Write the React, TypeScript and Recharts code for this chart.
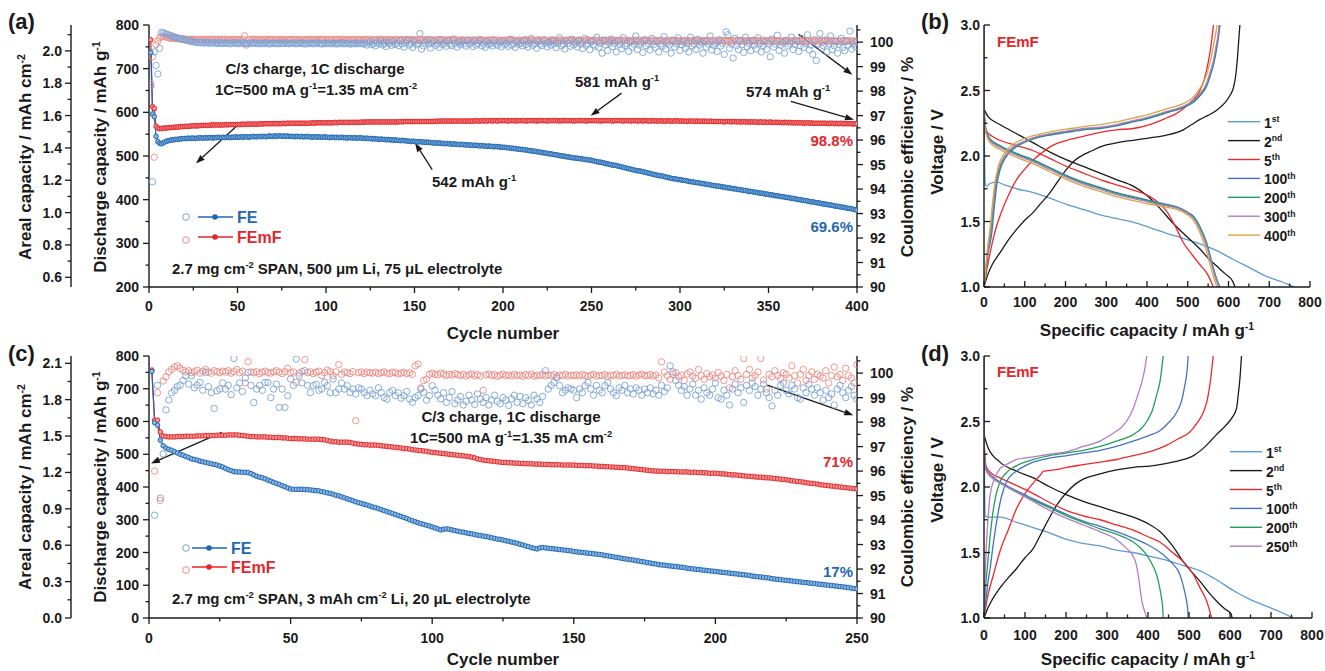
import React from 'react';
import { ComposedChart, LineChart, Line, XAxis, YAxis, ReferenceLine } from 'recharts';

const FONT = '"Liberation Sans", Arial, sans-serif';
const INK = '#1a1a1a';
const FE_DARK = '#1f67b1';
const FE_FILL = '#8fb8e3';
const FE_CE = '#7aa3d6';
const FM_DARK = '#e3262b';
const FM_FILL = '#f59b98';
const FM_CE = '#ef8a82';

// ---------- panel (a): 400 cycles, 500 um Li ----------
const feCapA = [
  737,596,590,545,533,529,528,530,532,534,535,536,537,537,538,538,539,539,540,540,
  540,541,540,541,541,540,541,541,542,541,541,542,541,542,542,541,542,542,543,542,
  542,543,542,543,543,542,543,543,544,543,543,544,543,544,544,543,544,544,545,544,
  544,545,544,545,545,544,545,546,545,545,546,545,546,546,545,546,545,546,545,545,
  545,544,545,545,544,545,544,544,545,544,544,543,544,544,543,544,543,543,544,543,
  543,542,543,543,542,543,542,542,543,542,542,541,542,542,541,542,541,541,542,541,
  541,540,541,540,540,539,540,539,539,538,539,538,538,537,538,537,537,536,537,536,
  536,535,536,535,535,534,534,533,534,533,533,532,533,532,532,531,532,531,531,530,
  530,530,529,530,529,529,528,529,528,528,527,528,527,527,526,527,526,526,525,526,
  525,525,524,525,524,524,523,524,523,523,522,523,522,522,521,522,521,521,520,520,
  520,519,519,518,518,517,517,516,516,515,515,514,514,513,512,512,511,511,510,509,
  509,508,507,507,506,505,505,504,503,503,502,501,500,500,499,498,498,497,496,496,
  495,495,494,494,493,492,492,491,491,490,489,488,487,486,486,485,484,483,482,481,
  480,479,479,478,477,476,475,474,473,472,471,470,469,468,467,466,466,465,464,463,
  462,461,460,459,458,457,456,455,455,454,453,452,451,450,449,448,448,447,446,446,
  445,444,444,443,442,441,441,440,439,439,438,437,437,436,435,435,434,433,432,432,
  431,431,430,429,429,428,427,427,426,425,425,424,423,423,422,421,421,420,419,419,
  418,417,417,416,415,415,414,413,413,412,411,411,410,409,409,408,407,407,406,405,
  405,404,403,403,402,401,400,400,399,398,398,397,396,395,395,394,393,393,392,391,
  390,390,389,388,388,387,386,385,385,384,383,383,382,381,380,380,379,378,377,376,
];
const femfCapA = [
  766,613,609,568,564,563,563,564,564,564,565,565,565,566,566,566,567,567,567,568,
  568,568,568,569,569,569,569,569,570,570,570,570,570,570,571,571,571,571,571,571,
  571,571,572,571,572,572,572,572,572,572,572,572,573,572,573,573,573,573,573,573,
  573,573,574,573,574,574,574,574,574,574,574,574,574,574,574,575,574,575,575,575,
  575,575,575,575,575,575,575,575,575,575,575,576,575,576,576,576,576,576,576,576,
  576,576,576,576,577,576,577,577,577,577,577,577,577,577,577,577,577,577,577,578,
  577,578,578,578,578,578,578,578,578,578,578,578,578,578,578,578,578,578,578,578,
  578,579,578,579,579,579,579,579,579,579,579,579,579,579,579,579,579,579,579,579,
  579,580,579,580,580,580,580,580,580,580,580,580,580,580,580,580,580,580,580,580,
  580,580,580,580,581,580,580,581,580,581,580,581,581,580,581,581,580,581,581,581,
  581,581,580,581,581,581,580,581,581,581,581,581,580,581,581,581,581,581,580,581,
  581,581,581,581,580,581,581,581,581,581,581,580,581,581,581,581,581,581,581,580,
  581,581,581,581,581,581,580,581,581,581,581,581,581,581,580,581,581,581,581,581,
  581,580,581,581,581,581,581,580,581,581,581,580,581,581,581,580,581,581,580,581,
  581,580,580,581,580,581,580,580,581,580,580,580,581,580,580,580,580,581,580,580,
  580,580,580,579,580,580,580,579,580,580,579,580,579,580,579,579,580,579,579,579,
  579,579,579,579,578,579,579,579,578,579,579,578,579,578,578,579,578,578,578,578,
  578,578,578,577,578,578,577,578,577,577,578,577,577,577,577,577,577,576,577,577,
  576,577,576,576,576,576,576,576,576,575,576,576,575,576,575,575,575,575,575,575,
  575,575,575,574,575,575,574,575,574,574,575,574,574,574,574,574,574,573,574,574,
];
const feCeA = [
  98.2,94.3,99.6,99.05,98.7,99.75,100.4,100.38,100.35,100.32,100.3,100.27,100.25,100.22,100.2,100.18,100.15,100.14,100.12,100.1,
  100.08,100.06,100.05,100.03,100.02,100.0,99.98,100.0,99.97,99.99,99.96,99.98,100.0,99.95,99.97,99.99,99.96,99.98,99.95,99.97,
  99.96,99.94,99.98,99.95,99.97,99.93,99.96,99.99,99.95,99.97,99.94,99.96,99.98,99.93,99.96,99.95,99.97,99.94,99.98,99.95,
  99.96,99.93,99.97,99.95,99.94,99.98,99.96,99.92,99.95,99.97,99.94,99.96,99.93,99.97,99.95,99.94,99.98,99.95,99.93,99.96,
  99.95,99.97,99.93,99.96,99.94,99.98,99.95,99.92,99.96,99.94,99.97,99.95,99.93,99.96,99.98,99.94,99.95,99.92,99.97,99.95,
  99.94,99.96,99.93,99.97,99.95,99.92,99.96,99.94,99.98,99.93,99.95,99.97,99.94,99.92,99.96,99.95,99.93,99.97,99.94,99.96,
  99.92,99.97,99.88,99.95,100.02,99.9,99.96,99.85,99.98,99.93,100.05,99.89,99.95,99.82,99.99,99.94,99.87,100.03,99.91,99.96,
  99.86,100.06,99.93,99.8,99.97,100.1,99.88,99.94,99.78,100.02,99.9,99.96,100.35,99.72,99.85,99.98,100.08,99.92,99.76,99.95,
  100.04,99.87,99.93,99.79,100.1,99.9,99.97,99.83,100.05,99.92,99.86,100.12,99.95,99.8,99.98,99.89,100.03,99.93,99.84,100.07,
  99.91,99.97,99.82,100.04,99.88,99.95,100.1,99.85,99.93,99.79,100.02,99.9,99.96,99.84,100.08,99.92,99.87,99.98,99.81,100.05,
  99.9,99.96,99.83,100.12,99.88,99.94,99.78,100.03,99.91,99.97,99.85,100.08,99.9,99.8,99.96,100.15,99.87,99.93,99.75,100.02,
  99.92,99.86,100.1,99.95,99.81,99.98,99.88,100.05,99.93,99.77,99.96,100.18,99.85,99.91,99.72,100.04,99.95,99.83,100.12,99.89,
  99.97,99.8,100.06,99.92,99.74,100.15,99.87,99.95,99.69,100.03,99.9,99.83,100.2,99.78,99.96,99.55,100.08,99.88,99.66,99.97,
  100.12,99.82,99.94,99.6,100.05,99.9,99.73,100.18,99.86,99.95,99.62,100.02,99.8,99.92,100.25,99.7,99.88,99.98,99.58,100.1,
  99.85,99.95,99.68,100.15,99.9,99.78,100.04,99.6,99.93,99.84,100.22,99.72,99.97,99.88,99.55,100.08,99.8,99.93,100.18,99.66,
  99.9,100.02,99.75,99.95,99.6,100.2,99.85,99.93,99.7,100.12,99.88,99.98,99.55,100.05,99.79,99.92,100.25,99.68,99.87,99.97,
  99.62,100.1,99.84,99.95,99.5,100.42,100.3,99.75,99.92,99.35,100.15,99.86,99.7,100.05,99.9,99.58,100.2,99.82,99.95,99.65,
  100.08,99.88,99.72,100.18,99.93,99.6,99.85,100.02,99.7,99.95,99.4,100.12,99.8,99.92,100.28,99.66,99.87,99.98,99.55,100.06,
  99.84,99.93,100.2,99.7,99.9,100.05,99.62,99.85,100.15,99.78,99.95,100.3,99.68,99.88,99.5,100.1,99.25,99.92,100.35,99.75,
  99.86,100.08,99.6,99.93,100.25,99.7,99.85,100.02,99.55,99.9,100.15,99.78,99.65,100.05,99.88,100.45,99.72,99.93,99.82,100.0,
];
const femfCeA = [
  98.3,99.4,95.3,99.9,100.05,100.18,100.22,100.25,100.22,100.2,100.18,100.16,100.17,100.15,100.14,100.15,100.13,100.14,100.12,100.13,
  100.11,100.12,100.1,100.12,100.11,100.09,100.12,100.1,100.11,100.09,100.12,100.1,100.08,100.11,100.1,100.12,100.09,100.11,100.1,100.08,
  100.11,100.09,100.12,100.1,100.08,100.11,100.1,100.12,100.09,100.11,100.1,100.08,100.12,100.26,99.88,100.1,100.11,100.09,100.12,100.1,
  100.09,100.11,100.1,100.08,100.12,100.1,100.09,100.11,100.1,100.12,100.08,100.1,100.11,100.09,100.12,100.1,100.08,100.11,100.1,100.09,
  100.1,100.12,100.08,100.11,100.09,100.1,100.12,100.08,100.1,100.11,100.09,100.12,100.1,100.08,100.11,100.1,100.09,100.12,100.1,100.08,
  100.11,100.09,100.1,100.12,100.08,100.1,100.11,100.09,100.12,100.1,100.08,100.11,100.1,100.09,100.12,100.1,100.08,100.11,100.09,100.1,
  100.08,100.11,100.09,100.12,100.07,100.1,100.09,100.11,100.08,100.1,100.12,100.07,100.1,100.09,100.11,100.08,100.1,100.06,100.11,100.09,
  100.1,100.07,100.11,100.08,100.1,100.06,100.09,100.11,100.08,100.1,100.07,100.09,100.11,100.06,100.1,100.08,100.09,100.11,100.07,100.1,
  100.06,100.09,100.08,100.11,100.07,100.1,100.05,100.09,100.08,100.1,100.06,100.09,100.11,100.07,100.08,100.05,100.1,100.08,100.06,100.09,
  100.08,100.05,100.1,100.07,100.09,100.06,100.08,100.1,100.05,100.08,100.07,100.09,100.06,100.1,100.08,100.05,100.09,100.07,100.08,100.06,
  100.09,100.05,100.08,100.07,100.1,100.06,100.08,100.04,100.09,100.07,100.05,100.08,100.1,100.06,100.07,100.09,100.05,100.08,100.06,100.1,
  100.07,100.05,100.09,100.06,100.08,100.04,100.07,100.1,100.05,100.08,100.06,100.09,100.04,100.07,100.08,100.05,100.1,100.06,100.07,100.04,
  100.08,100.06,100.09,100.05,100.07,100.04,100.08,100.1,100.05,100.07,100.06,100.09,100.04,100.08,100.06,100.07,100.03,100.09,100.05,100.08,
  100.06,100.04,100.08,100.07,100.05,100.09,100.03,100.07,100.06,100.08,100.04,100.07,100.05,100.09,100.06,100.03,100.08,100.05,100.07,100.04,
  100.08,100.05,100.06,100.03,100.09,100.06,100.04,100.07,100.05,100.08,100.03,100.06,100.07,100.04,100.08,100.05,100.06,100.03,100.07,100.05,
  100.04,100.08,100.05,100.06,100.03,100.07,100.05,100.04,100.08,100.06,100.03,100.07,100.05,100.06,100.04,100.08,100.05,100.03,100.07,100.06,
  100.05,100.03,100.07,100.06,100.04,100.08,100.05,100.03,100.06,100.07,100.04,100.05,100.08,100.03,100.06,100.05,100.04,100.07,100.05,100.03,
  100.06,100.04,100.07,100.05,100.03,100.06,100.08,100.04,100.05,100.07,100.03,100.06,100.05,100.04,100.07,100.05,100.03,100.06,100.04,100.07,
  100.05,100.03,100.06,100.04,100.07,100.05,100.02,100.06,100.04,100.05,100.07,100.03,100.05,100.06,100.04,100.02,100.06,100.05,100.03,100.07,
  100.04,100.06,100.02,100.05,100.07,100.03,100.05,100.04,100.06,100.02,100.05,100.04,100.07,100.03,100.05,100.06,100.02,100.05,100.04,100.03,
];

// ---------- panel (c): 250 cycles, 3 mAh cm-2 Li ----------
const feCapC = [
  753,596,589,543,526,519,515,512,508,504,500,497,493,490,486,484,482,479,477,475,473,471,469,467,464,
  461,457,453,450,447,446,446,445,445,444,441,437,433,430,428,425,421,418,414,411,408,404,401,397,394,
  393,393,393,393,392,392,391,390,389,388,386,384,382,380,378,375,373,370,367,364,361,358,355,352,350,
  347,345,342,339,337,334,331,328,325,322,319,316,313,310,307,304,300,297,294,291,288,286,283,281,278,
  275,272,269,271,272,271,269,267,265,263,262,260,258,257,255,253,252,250,249,247,245,243,241,240,238,
  236,234,232,230,228,225,223,220,218,215,213,211,214,215,214,213,212,211,210,209,208,207,206,205,203,
  202,201,200,199,198,197,196,195,194,193,191,190,188,187,185,184,182,181,179,178,177,175,174,172,171,
  169,168,166,165,163,162,161,160,159,158,157,156,155,154,152,151,150,149,148,147,146,145,144,143,142,
  141,140,139,138,137,136,135,134,133,132,131,130,128,127,126,125,124,123,122,120,119,118,117,116,115,
  114,113,112,111,110,109,108,107,106,105,104,103,102,101,100,99,98,97,96,95,94,93,91,90,89,
];
const femfCapC = [
  757,604,604,568,556,554,553,553,553,554,554,554,555,555,555,555,556,556,556,557,557,557,557,558,558,
  558,558,559,559,559,559,558,557,556,555,554,554,553,553,553,553,552,552,551,551,551,550,550,549,548,
  548,548,547,547,547,546,546,546,546,546,545,544,542,540,538,538,537,537,537,537,536,534,532,531,530,
  529,529,528,528,528,527,526,525,524,523,522,521,520,519,518,517,516,514,513,512,511,510,509,507,506,
  505,504,503,502,501,500,499,498,497,496,495,494,493,491,489,486,484,482,481,480,479,478,477,476,475,
  475,474,474,473,473,472,472,471,471,471,470,470,470,469,469,469,468,468,468,468,467,467,467,467,467,
  466,466,466,465,465,465,464,464,463,463,462,462,461,461,460,460,459,459,458,457,456,455,454,453,452,
  451,450,449,449,448,448,448,447,447,447,447,446,446,446,446,445,445,445,444,444,443,443,442,442,442,
  441,440,440,439,438,437,437,436,435,434,433,433,432,431,430,430,429,428,428,427,426,425,424,423,422,
  421,419,418,417,416,415,413,412,411,410,409,407,406,405,404,403,402,401,400,399,398,397,396,395,394,
];
const feCeC = [
  null,94.2,99.5,94.9,96.7,98.5,98.9,99.2,99.3,99.45,99.51,99.7,99.89,99.55,99.9,99.4,99.51,99.62,99.3,100.03,99.45,99.2,98.56,99.28,99.35,
  99.6,99.35,99.5,99.12,100.6,99.4,99.6,99.25,99.8,100.03,99.5,98.8,99.35,99.49,99.3,99.62,99.62,99.0,99.35,99.55,98.6,99.35,98.6,99.08,99.76,
  99.5,100.57,99.89,99.6,100.1,99.5,99.2,99.49,99.55,99.3,99.35,99.62,99.49,99.2,99.76,99.2,99.35,99.6,99.35,99.49,99.21,99.35,99.15,99.4,99.35,
  99.2,99.08,99.3,99.15,99.08,99.4,99.21,99.0,98.94,99.21,99.3,99.08,99.2,98.98,99.08,99.25,98.94,98.81,99.0,99.08,99.35,99.21,98.9,99.08,99.49,
  99.3,99.1,98.95,99.2,98.8,99.0,99.25,98.75,98.9,99.05,98.7,98.85,99.1,98.9,98.72,99.15,98.95,98.8,99.0,98.7,98.9,99.1,98.85,98.75,99.0,
  98.9,98.68,98.95,99.1,98.8,99.05,98.75,99.0,98.88,98.7,99.1,98.95,98.8,99.05,100.1,99.35,99.5,99.62,99.8,99.49,99.2,99.3,99.4,99.35,99.3,
  99.0,99.35,99.2,99.49,99.62,99.35,99.1,99.5,99.3,99.2,99.49,99.62,99.35,99.2,99.08,99.4,99.3,99.5,99.2,99.35,99.15,99.4,99.3,99.1,99.35,
  99.2,99.4,99.15,99.3,99.1,99.5,99.25,99.4,100.3,100.05,99.7,99.5,99.3,99.45,99.1,99.35,99.55,99.1,99.3,98.94,99.4,99.2,99.1,99.35,99.6,
  99.0,98.94,99.3,99.1,98.7,99.35,99.55,99.2,99.4,98.8,99.5,99.3,99.6,99.45,99.1,99.35,99.55,99.2,99.0,98.66,99.3,99.1,99.5,99.6,99.3,
  99.15,99.5,99.35,99.0,98.94,99.4,99.2,99.55,99.35,99.1,99.4,99.2,98.9,99.3,99.0,99.15,98.7,99.35,99.5,99.2,99.0,99.3,99.45,99.1,98.94,
];
const femfCeC = [
  null,96.0,99.2,94.8,99.68,99.85,100.05,100.15,100.25,100.3,100.2,100.12,100.05,100.1,100.02,100.06,100.12,100.0,100.08,100.15,100.05,100.0,100.1,100.06,100.02,
  100.08,100.04,100.1,100.0,100.06,100.15,100.02,100.08,99.6,100.47,100.05,100.02,100.06,99.98,100.04,100.08,100.02,100.0,100.05,100.1,100.04,99.98,100.06,100.2,100.02,
  100.05,99.62,100.0,100.06,100.55,100.02,100.05,99.98,100.04,100.08,99.9,100.02,100.12,100.06,99.9,100.05,100.35,99.95,100.05,100.02,99.98,100.06,98.06,100.02,100.05,
  99.98,100.04,100.02,100.0,100.04,99.98,100.02,100.05,100.0,99.98,100.04,100.02,99.97,100.0,100.03,99.98,100.02,99.95,100.3,100.37,99.4,99.7,99.75,99.95,100.0,
  99.95,99.93,100.0,99.96,99.9,99.95,99.92,99.98,99.94,99.9,99.95,99.88,99.93,99.97,99.9,99.94,99.88,99.3,99.93,99.96,99.9,99.94,99.87,99.92,99.96,
  99.9,99.93,99.88,99.95,99.9,99.92,99.87,99.94,99.9,99.96,99.88,99.92,99.9,99.95,99.89,99.93,99.9,99.94,99.87,99.92,99.9,99.95,99.88,99.92,99.9,
  99.93,99.89,99.94,99.9,99.87,99.92,99.95,99.88,99.91,99.9,99.94,99.87,99.92,99.9,99.95,99.88,99.91,99.93,99.89,99.9,99.94,99.88,99.92,99.96,99.9,
  99.9,99.94,99.88,99.92,99.8,100.46,100.05,99.9,99.75,99.95,100.02,99.85,99.92,99.7,99.96,100.05,99.88,99.8,100.15,99.9,99.75,99.98,99.85,99.92,99.8,
  100.02,99.88,99.7,99.95,99.4,99.85,100.1,99.9,99.75,100.6,99.95,100.15,99.8,99.9,100.05,100.6,99.72,99.35,99.95,99.85,100.1,99.9,99.78,100.02,99.95,
  99.8,100.3,99.9,99.6,99.95,100.15,99.7,99.9,100.05,99.75,99.95,99.88,99.8,100.1,99.6,99.9,100.25,99.85,99.95,99.7,100.2,99.9,99.8,99.6,100.35,
];

// ---------- panel (b): voltage profiles [capacity, voltage] ----------
const b1Dis = [[0,3.0],[1,2.1],[3,1.79],[6,1.77],[15,1.79],[31,1.8],[50,1.78],[80,1.75],[121,1.72],[160,1.68],[203,1.63],[245,1.59],[285,1.55],[330,1.52],[366,1.495],[410,1.45],[448,1.41],[490,1.37],[530,1.33],[570,1.28],[612,1.21],[650,1.15],[694,1.08],[730,1.04],[762,1.0]];
const b2Dis = [[0,2.36],[10,2.3],[39,2.24],[80,2.17],[121,2.1],[162,2.03],[203,1.97],[244,1.92],[285,1.87],[325,1.82],[366,1.77],[399,1.7],[432,1.6],[460,1.5],[489,1.41],[510,1.35],[530,1.29],[550,1.22],[571,1.16],[592,1.1],[610,1.045],[616,1.0]];
const b2Chg = [[0,1.0],[10,1.1],[20,1.17],[39,1.26],[60,1.36],[80,1.44],[100,1.51],[121,1.57],[140,1.64],[162,1.72],[182,1.81],[203,1.9],[224,1.97],[244,2.01],[265,2.04],[285,2.07],[325,2.1],[366,2.12],[410,2.14],[448,2.16],[489,2.2],[510,2.24],[530,2.28],[550,2.31],[571,2.35],[592,2.41],[605,2.47],[612,2.52],[618,2.62],[622,2.75],[625,2.88],[628,3.0]];
const b5Dis = [[0,2.95],[1,2.3],[6,2.19],[20,2.15],[39,2.12],[80,2.08],[121,2.04],[162,1.98],[203,1.92],[244,1.87],[285,1.82],[325,1.78],[366,1.74],[407,1.69],[430,1.64],[448,1.58],[470,1.46],[489,1.34],[510,1.25],[530,1.17],[548,1.1],[563,1.0]];
const b5Chg = [[0,1.0],[5,1.1],[15,1.26],[25,1.4],[39,1.54],[60,1.7],[80,1.82],[100,1.9],[121,1.97],[140,2.02],[162,2.07],[182,2.1],[203,2.12],[244,2.15],[285,2.18],[325,2.2],[366,2.21],[407,2.24],[448,2.29],[470,2.32],[489,2.36],[510,2.42],[530,2.5],[540,2.58],[548,2.68],[555,2.8],[559,2.89],[563,3.0]];
const b100Dis = [[0,2.95],[1,2.3],[5,2.2],[15,2.13],[39,2.08],[80,2.02],[121,1.97],[162,1.91],[203,1.85],[244,1.8],[285,1.76],[325,1.72],[366,1.69],[407,1.66],[448,1.63],[475,1.61],[500,1.57],[514,1.54],[530,1.46],[546,1.34],[559,1.19],[571,1.06],[579,1.0]];
const b100Chg = [[0,1.0],[5,1.12],[10,1.25],[19,1.41],[25,1.6],[31,1.77],[40,1.9],[56,2.0],[75,2.06],[97,2.1],[121,2.13],[162,2.16],[203,2.18],[244,2.2],[285,2.21],[325,2.23],[366,2.26],[407,2.29],[448,2.33],[489,2.37],[514,2.41],[530,2.46],[546,2.53],[556,2.62],[565,2.72],[571,2.82],[576,2.92],[579,3.0]];
const b200Dis = [[0,2.95],[1,2.29],[5,2.19],[15,2.125],[39,2.075],[80,2.015],[121,1.965],[162,1.905],[203,1.845],[244,1.795],[285,1.755],[325,1.715],[366,1.685],[407,1.655],[448,1.625],[475,1.605],[500,1.565],[514,1.535],[530,1.455],[546,1.335],[559,1.185],[571,1.055],[578,1.0]];
const b200Chg = [[0,1.0],[5,1.13],[9,1.26],[17,1.42],[23,1.61],[29,1.78],[38,1.9],[54,2.005],[73,2.065],[97,2.105],[121,2.135],[162,2.165],[203,2.185],[244,2.205],[285,2.215],[325,2.235],[366,2.265],[407,2.295],[448,2.335],[489,2.375],[513,2.415],[529,2.465],[545,2.535],[555,2.625],[564,2.725],[570,2.825],[575,2.92],[578,3.0]];
const b300Dis = [[0,2.95],[1,2.28],[5,2.18],[15,2.115],[39,2.065],[80,2.005],[121,1.955],[162,1.895],[203,1.835],[244,1.785],[285,1.745],[325,1.705],[366,1.675],[407,1.645],[448,1.62],[475,1.6],[500,1.56],[514,1.525],[529,1.445],[545,1.325],[558,1.18],[570,1.05],[577,1.0]];
const b300Chg = [[0,1.0],[4,1.13],[9,1.27],[16,1.43],[22,1.62],[28,1.79],[37,1.91],[53,2.01],[72,2.07],[97,2.11],[121,2.14],[162,2.17],[203,2.19],[244,2.21],[285,2.22],[325,2.24],[366,2.27],[407,2.3],[448,2.34],[489,2.38],[512,2.42],[528,2.47],[544,2.54],[554,2.63],[563,2.73],[569,2.83],[574,2.92],[577,3.0]];
const b400Dis = [[0,2.95],[1,2.27],[5,2.17],[15,2.1],[39,2.05],[80,1.99],[121,1.94],[162,1.88],[203,1.82],[244,1.77],[285,1.73],[325,1.69],[366,1.66],[407,1.63],[448,1.61],[475,1.59],[500,1.55],[514,1.51],[528,1.43],[542,1.31],[555,1.17],[566,1.05],[572,1.0]];
const b400Chg = [[0,1.0],[4,1.14],[8,1.28],[15,1.45],[21,1.64],[27,1.8],[36,1.93],[52,2.03],[72,2.09],[97,2.13],[121,2.155],[162,2.185],[203,2.205],[244,2.225],[285,2.24],[325,2.26],[366,2.29],[407,2.32],[448,2.36],[489,2.4],[510,2.44],[526,2.5],[540,2.57],[550,2.66],[558,2.76],[564,2.86],[569,2.94],[572,3.0]];

// ---------- panel (d) ----------
const d1Dis = [[0,3.0],[1,2.2],[3,1.78],[10,1.77],[39,1.77],[80,1.73],[120,1.69],[160,1.65],[202,1.6],[240,1.57],[283,1.55],[320,1.52],[364,1.5],[405,1.47],[446,1.44],[487,1.4],[527,1.36],[568,1.29],[608,1.21],[650,1.14],[689,1.09],[720,1.05],[754,1.0]];
const d2Dis = [[0,2.4],[10,2.3],[39,2.19],[80,2.12],[120,2.07],[161,2.0],[202,1.94],[242,1.89],[283,1.85],[323,1.81],[364,1.77],[400,1.72],[429,1.66],[460,1.55],[486,1.43],[507,1.35],[527,1.28],[547,1.2],[567,1.13],[587,1.07],[603,1.03],[605,1.0]];
const d2Chg = [[0,1.0],[10,1.08],[20,1.14],[39,1.23],[60,1.31],[80,1.38],[100,1.46],[120,1.53],[137,1.63],[157,1.75],[177,1.86],[202,1.96],[222,2.02],[242,2.06],[283,2.1],[323,2.13],[364,2.15],[405,2.16],[446,2.18],[487,2.21],[511,2.24],[540,2.31],[567,2.4],[590,2.47],[605,2.53],[616,2.6],[620,2.7],[624,2.82],[628,3.0]];
const d5Dis = [[0,3.0],[1,2.3],[6,2.15],[20,2.1],[39,2.07],[80,2.01],[120,1.95],[161,1.88],[202,1.82],[242,1.78],[283,1.75],[323,1.71],[364,1.67],[400,1.62],[429,1.58],[460,1.5],[486,1.43],[511,1.33],[527,1.23],[543,1.13],[550,1.06],[555,1.0]];
const d5Chg = [[0,1.0],[8,1.15],[23,1.33],[39,1.51],[60,1.68],[80,1.84],[100,1.95],[120,2.03],[137,2.09],[145,2.12],[170,2.13],[202,2.15],[242,2.17],[283,2.19],[323,2.21],[364,2.24],[405,2.27],[446,2.32],[475,2.37],[502,2.42],[520,2.49],[535,2.57],[545,2.67],[551,2.78],[555,2.88],[559,3.0]];
const d100Dis = [[0,3.0],[1,2.25],[5,2.14],[20,2.08],[39,2.04],[80,1.97],[120,1.91],[161,1.85],[202,1.79],[242,1.74],[283,1.7],[323,1.66],[364,1.61],[405,1.55],[430,1.5],[455,1.43],[478,1.33],[488,1.22],[494,1.13],[497,1.06],[498,1.0]];
const d100Chg = [[0,1.0],[5,1.15],[10,1.28],[15,1.38],[22,1.55],[31,1.74],[42,1.92],[55,2.04],[70,2.1],[88,2.14],[120,2.19],[160,2.22],[202,2.24],[242,2.26],[283,2.28],[323,2.31],[364,2.35],[400,2.39],[429,2.43],[450,2.49],[470,2.57],[482,2.66],[490,2.78],[495,2.88],[498,3.0]];
const d200Dis = [[0,3.0],[1,2.25],[5,2.13],[20,2.07],[39,2.03],[80,1.96],[120,1.9],[161,1.84],[202,1.78],[242,1.73],[283,1.68],[323,1.64],[364,1.58],[380,1.54],[397,1.48],[410,1.41],[421,1.33],[428,1.24],[433,1.15],[436,1.07],[437,1.0]];
const d200Chg = [[0,1.0],[3,1.2],[8,1.38],[13,1.56],[19,1.74],[28,1.92],[39,2.04],[55,2.11],[72,2.15],[100,2.19],[120,2.21],[160,2.24],[202,2.26],[242,2.28],[283,2.31],[323,2.35],[364,2.4],[385,2.45],[397,2.5],[410,2.58],[421,2.7],[430,2.82],[437,3.0]];
const d250Dis = [[0,3.0],[1,2.25],[5,2.13],[20,2.07],[39,2.03],[80,1.96],[120,1.89],[161,1.82],[202,1.76],[242,1.71],[283,1.66],[323,1.6],[348,1.53],[364,1.47],[372,1.4],[376,1.33],[381,1.22],[385,1.13],[391,1.06],[397,1.0]];
const d250Chg = [[0,1.0],[2,1.25],[5,1.51],[9,1.72],[15,1.94],[25,2.06],[39,2.14],[60,2.18],[80,2.21],[120,2.23],[160,2.25],[202,2.27],[242,2.31],[283,2.35],[315,2.41],[340,2.47],[355,2.54],[364,2.6],[375,2.7],[385,2.8],[392,2.9],[397,3.0]];

// ---------- axis ticks ----------
const cycTicksA = [0,25,50,75,100,125,150,175,200,225,250,275,300,325,350,375,400];
const cycMajorA = [0,50,100,150,200,250,300,350,400];
const capTicksA = [200,250,300,350,400,450,500,550,600,650,700,750,800];
const capMajorA = [200,300,400,500,600,700,800];
const arealTicksA = [0.6,0.7,0.8,0.9,1.0,1.1,1.2,1.3,1.4,1.5,1.6,1.7,1.8,1.9,2.0,2.1];
const arealMajorA = [0.6,0.8,1.0,1.2,1.4,1.6,1.8,2.0];
const ceTicks = [90,90.5,91,91.5,92,92.5,93,93.5,94,94.5,95,95.5,96,96.5,97,97.5,98,98.5,99,99.5,100,100.5];
const ceMajor = [90,91,92,93,94,95,96,97,98,99,100];
const cycTicksC = [0,25,50,75,100,125,150,175,200,225,250];
const cycMajorC = [0,50,100,150,200,250];
const capTicksC = [0,50,100,150,200,250,300,350,400,450,500,550,600,650,700,750,800];
const capMajorC = [0,100,200,300,400,500,600,700,800];
const arealTicksC = [0,0.15,0.3,0.45,0.6,0.75,0.9,1.05,1.2,1.35,1.5,1.65,1.8,1.95,2.1];
const arealMajorC = [0,0.3,0.6,0.9,1.2,1.5,1.8,2.1];
const qTicks = [0,50,100,150,200,250,300,350,400,450,500,550,600,650,700,750,800];
const qMajor = [0,100,200,300,400,500,600,700,800];
const vTicks = [1,1.25,1.5,1.75,2,2.25,2.5,2.75,3];
const vMajor = [1,1.5,2,2.5,3];

const legendB = [
  { name: '1^{st}', color: '#5b9bd5' },
  { name: '2^{nd}', color: '#1a1a1a' },
  { name: '5^{th}', color: '#f0282a' },
  { name: '100^{th}', color: '#4472c4' },
  { name: '200^{th}', color: '#22a05a' },
  { name: '300^{th}', color: '#b07cc6' },
  { name: '400^{th}', color: '#d8a548' },
];
const legendD = [
  { name: '1^{st}', color: '#5b9bd5' },
  { name: '2^{nd}', color: '#1a1a1a' },
  { name: '5^{th}', color: '#f0282a' },
  { name: '100^{th}', color: '#4472c4' },
  { name: '200^{th}', color: '#22a05a' },
  { name: '250^{th}', color: '#b07cc6' },
];

const tableA = feCapA.map((v, i) => ({ cycle: i + 1, feCap: v, femfCap: femfCapA[i], feCE: feCeA[i], femfCE: femfCeA[i] }));
const tableC = feCapC.map((v, i) => ({ cycle: i + 1, feCap: v, femfCap: femfCapC[i], feCE: feCeC[i], femfCE: femfCeC[i] }));
const pts = (arr: number[][]) => arr.map(([q, v]) => ({ q, v }));

const TICK = { fontFamily: FONT, fontSize: 14, fontWeight: 700, fill: INK };
const AX = { stroke: INK, strokeWidth: 1.4 };

function tickFn(side: 'left' | 'right' | 'bottom', majors: number[], digits: number, gap: number, inward = false) {
  return (p: any) => {
    const v = Number(p.payload.value);
    const major = majors.some((m) => Math.abs(m - v) < 1e-6);
    const len = (major ? 6 : 3.5) * (inward ? -1 : 1);
    const txt = major ? v.toFixed(digits) : '';
    if (side === 'bottom') {
      return (
        <g>
          <line x1={p.x} x2={p.x} y1={p.y} y2={p.y + len} stroke={INK} strokeWidth={1.3} />
          <text x={p.x} y={p.y + gap} textAnchor="middle" {...TICK}>{txt}</text>
        </g>
      );
    }
    const d = side === 'left' ? -1 : 1;
    return (
      <g>
        <line x1={p.x} x2={p.x + d * len} y1={p.y} y2={p.y} stroke={INK} strokeWidth={1.3} />
        <text x={p.x + d * gap} y={p.y + 5} textAnchor={side === 'left' ? 'end' : 'start'} {...TICK}>{txt}</text>
      </g>
    );
  };
}

const Arrow = (p: any) => {
  const { x1, y1, x2, y2 } = p;
  const a = Math.atan2(y2 - y1, x2 - x1);
  const L = 9;
  const W = 3.2;
  const bx = x2 - L * Math.cos(a);
  const by = y2 - L * Math.sin(a);
  const px = -Math.sin(a) * W;
  const py = Math.cos(a) * W;
  return (
    <g>
      <line x1={x1} y1={y1} x2={bx} y2={by} stroke={INK} strokeWidth={1.3} />
      <polygon points={`${x2},${y2} ${bx + px},${by + py} ${bx - px},${by - py}`} fill={INK} />
    </g>
  );
};

function Rich({ x, y, s, size = 15, fill = INK, anchor = 'start', rot = false }: {
  x: number; y: number; s: string; size?: number; fill?: string; anchor?: 'start' | 'middle' | 'end'; rot?: boolean;
}) {
  const parts = s.split(/\^\{([^}]*)\}/);
  const up = size * 0.38;
  const out: React.ReactNode[] = [];
  let raised = false;
  parts.forEach((p, i) => {
    if (i % 2 === 1) {
      out.push(<tspan key={i} dy={raised ? 0 : -up} fontSize={size * 0.62}>{p}</tspan>);
      raised = true;
    } else if (p) {
      out.push(<tspan key={i} dy={raised ? up : 0}>{p}</tspan>);
      raised = false;
    }
  });
  return (
    <text x={x} y={y} textAnchor={anchor} fontSize={size} fontWeight={700} fill={fill} fontFamily={FONT}
      transform={rot ? `rotate(-90 ${x} ${y})` : undefined}>
      {out}
    </text>
  );
}

const capDot = (stroke: string, fill: string) => ({ r: 2.3, stroke, fill, strokeWidth: 1 });
const ceDot = (stroke: string) => ({ r: 3.2, stroke, fill: 'none', strokeWidth: 0.9 });

// y axis ids: "a1" = mAh/g (next to the plot), "a2" = areal (outer), "ce" = right
function CyclePanel({ table, height, top, xMax, cycTicks, cycMajor, capDomain, capTicks, capMajor, arealDomain, arealTicks, arealMajor, arealDigits, xGap, arrows }: any) {
  return (
    <ComposedChart width={940} height={height} data={table} margin={{ top, right: 0, bottom: 0, left: 0 }}>
      <XAxis xAxisId="x" dataKey="cycle" type="number" domain={[0, xMax]} allowDataOverflow ticks={cycTicks} interval={0}
        height={height - top - 262} tickSize={0} tickMargin={0} tickLine={false} axisLine={AX} tick={tickFn('bottom', cycMajor, 0, xGap)} />
      <XAxis xAxisId="top" orientation="top" type="number" domain={[0, xMax]} height={0} tick={false} tickLine={false} axisLine={AX} />
      <YAxis yAxisId="a1" type="number" domain={capDomain} allowDataOverflow ticks={capTicks} interval={0} width={78}
        tickSize={0} tickMargin={0} tickLine={false} axisLine={AX} tick={tickFn('left', capMajor, 0, 10)} />
      <YAxis yAxisId="a2" type="number" domain={arealDomain} allowDataOverflow ticks={arealTicks} interval={0} width={71}
        tickSize={0} tickMargin={0} tickLine={false} axisLine={AX} tick={tickFn('left', arealMajor, arealDigits, 9)} />
      <YAxis yAxisId="ce" orientation="right" type="number" domain={[90, 100.7]} allowDataOverflow ticks={ceTicks} interval={0} width={83}
        tickSize={0} tickMargin={0} tickLine={false} axisLine={AX} tick={tickFn('right', ceMajor, 0, 13)} />
      <Line xAxisId="x" yAxisId="ce" dataKey="femfCE" stroke="none" strokeWidth={0} dot={ceDot(FM_CE)} activeDot={false} isAnimationActive={false} />
      <Line xAxisId="x" yAxisId="ce" dataKey="feCE" stroke="none" strokeWidth={0} dot={ceDot(FE_CE)} activeDot={false} isAnimationActive={false} />
      <Line xAxisId="x" yAxisId="a1" dataKey="femfCap" type="linear" stroke={FM_DARK} strokeWidth={1.2} dot={capDot(FM_DARK, FM_FILL)} activeDot={false} isAnimationActive={false} />
      <Line xAxisId="x" yAxisId="a1" dataKey="feCap" type="linear" stroke={FE_DARK} strokeWidth={1.2} dot={capDot(FE_DARK, FE_FILL)} activeDot={false} isAnimationActive={false} />
      {arrows.map((a: number[], i: number) => (
        <ReferenceLine key={i} xAxisId="x" yAxisId="a1" segment={[{ x: a[0], y: a[1] }, { x: a[2], y: a[3] }]} shape={Arrow} />
      ))}
    </ComposedChart>
  );
}

function VoltPanel({ height, top, right, curves, xGap }: any) {
  return (
    <LineChart width={415} height={height} margin={{ top, right, bottom: 0, left: 0 }}>
      <XAxis xAxisId="q" dataKey="q" type="number" domain={[0, 800]} allowDataOverflow ticks={qTicks} interval={0}
        height={height - top - 262} tickSize={0} tickMargin={0} tickLine={false} axisLine={AX} tick={tickFn('bottom', qMajor, 0, xGap, true)} />
      <XAxis xAxisId="top" orientation="top" type="number" domain={[0, 800]} height={0} tick={false} tickLine={false} axisLine={AX} />
      <YAxis yAxisId="v" type="number" domain={[1, 3]} allowDataOverflow ticks={vTicks} interval={0} width={74}
        tickSize={0} tickMargin={0} tickLine={false} axisLine={AX} tick={tickFn('left', vMajor, 1, 4, true)} />
      <YAxis yAxisId="r" orientation="right" type="number" domain={[1, 3]} width={0} tick={false} tickLine={false} axisLine={AX} />
      {curves.map((c: { d: number[][]; color: string }, i: number) => (
        <Line key={i} xAxisId="q" yAxisId="v" data={pts(c.d)} dataKey="v" type="monotone" stroke={c.color} strokeWidth={1.3}
          dot={false} activeDot={false} isAnimationActive={false} />
      ))}
    </LineChart>
  );
}

const [cB1, cB2, cB5, cB100, cB200, cB300, cB400] = legendB.map((l) => l.color);
const curvesB = [
  { d: b1Dis, color: cB1 }, { d: b2Dis, color: cB2 }, { d: b2Chg, color: cB2 },
  { d: b5Dis, color: cB5 }, { d: b5Chg, color: cB5 }, { d: b100Dis, color: cB100 }, { d: b100Chg, color: cB100 },
  { d: b200Dis, color: cB200 }, { d: b200Chg, color: cB200 }, { d: b300Dis, color: cB300 }, { d: b300Chg, color: cB300 },
  { d: b400Dis, color: cB400 }, { d: b400Chg, color: cB400 },
];
const curvesD = [
  { d: d1Dis, color: cB1 }, { d: d2Dis, color: cB2 }, { d: d2Chg, color: cB2 },
  { d: d5Dis, color: cB5 }, { d: d5Chg, color: cB5 }, { d: d100Dis, color: cB100 }, { d: d100Chg, color: cB100 },
  { d: d200Dis, color: cB200 }, { d: d200Chg, color: cB200 }, { d: d250Dis, color: cB300 }, { d: d250Chg, color: cB300 },
];

// arrows in data coordinates: [x0, cap0, x1, cap1], head at the second point
const arrowsA = [[52, 578, 26.5, 483], [160, 469, 150.3, 530], [267, 644, 249.5, 592], [362.6, 625, 398.3, 583], [367, 779, 397.4, 686]];
const arrowsC = [[25.7, 567, 0.7, 472], [218.3, 711, 248.7, 619]];

function CycLegend({ y1, y2, x }: { y1: number; y2: number; x: number }) {
  return (
    <g>
      <circle cx={186} cy={y1} r={3.3} fill="none" stroke={FE_CE} strokeWidth={1} />
      <line x1={x} x2={x + 35} y1={y1} y2={y1} stroke={FE_DARK} strokeWidth={1.4} />
      <circle cx={x + 17} cy={y1} r={2.8} fill={FE_DARK} />
      <Rich x={x + 39} y={y1 + 6} s="FE" size={16} fill={FE_DARK} />
      <circle cx={186} cy={y2 + 3} r={3.3} fill="none" stroke={FM_CE} strokeWidth={1} />
      <line x1={x} x2={x + 35} y1={y2} y2={y2} stroke={FM_DARK} strokeWidth={1.4} />
      <circle cx={x + 17} cy={y2} r={2.8} fill={FM_DARK} />
      <Rich x={x + 39} y={y2 + 6} s="FEmF" size={16} fill={FM_DARK} />
    </g>
  );
}

function VoltLegend({ items, x, y0, step }: { items: { name: string; color: string }[]; x: number; y0: number; step: number }) {
  return (
    <g>
      {items.map((it, i) => (
        <g key={it.name}>
          <line x1={x} x2={x + 32} y1={y0 + i * step} y2={y0 + i * step} stroke={it.color} strokeWidth={1.4} />
          <Rich x={x + 36} y={y0 + i * step + 6} s={it.name} size={14} />
        </g>
      ))}
    </g>
  );
}

export default function App() {
  return (
    <div style={{ position: 'absolute', left: 0, top: 0, width: 1325, height: 671, background: '#fff', overflow: 'hidden' }}>
      <div style={{ position: 'absolute', left: 0, top: 0 }}>
        <CyclePanel table={tableA} height={350} top={25} xMax={400} cycTicks={cycTicksA} cycMajor={cycMajorA}
          capDomain={[200, 800]} capTicks={capTicksA} capMajor={capMajorA} arealDomain={[0.54, 2.16]}
          arealTicks={arealTicksA} arealMajor={arealMajorA} arealDigits={1} xGap={24} arrows={arrowsA} />
      </div>
      <div style={{ position: 'absolute', left: 0, top: 340 }}>
        <CyclePanel table={tableC} height={331} top={16} xMax={250} cycTicks={cycTicksC} cycMajor={cycMajorC}
          capDomain={[0, 800]} capTicks={capTicksC} capMajor={capMajorC} arealDomain={[0, 2.16]}
          arealTicks={arealTicksC} arealMajor={arealMajorC} arealDigits={1} xGap={25} arrows={arrowsC} />
      </div>
      <div style={{ position: 'absolute', left: 910, top: 0 }}>
        <VoltPanel height={350} top={25} right={15} curves={curvesB} xGap={20} />
      </div>
      <div style={{ position: 'absolute', left: 910, top: 340 }}>
        <VoltPanel height={331} top={16} right={13} curves={curvesD} xGap={22} />
      </div>
      <svg width={1325} height={671} style={{ position: 'absolute', left: 0, top: 0, pointerEvents: 'none' }}>
        <Rich x={8} y={29} s="(a)" size={22} />
        <Rich x={921} y={29} s="(b)" size={22} />
        <Rich x={8} y={361} s="(c)" size={22} />
        <Rich x={921} y={361} s="(d)" size={22} />

        <Rich x={31} y={157} s="Areal capacity / mAh cm^{-2}" size={17} anchor="middle" rot />
        <Rich x={106} y={157} s="Discharge capacity / mAh g^{-1}" size={17} anchor="middle" rot />
        <Rich x={913} y={157} s="Coulombic efficiency / %" size={17} anchor="middle" rot />
        <Rich x={943} y={152} s="Voltage / V" size={17} anchor="middle" rot />
        <Rich x={31} y={487} s="Areal capacity / mAh cm^{-2}" size={17} anchor="middle" rot />
        <Rich x={106} y={487} s="Discharge capacity / mAh g^{-1}" size={17} anchor="middle" rot />
        <Rich x={913} y={487} s="Coulombic efficiency / %" size={17} anchor="middle" rot />
        <Rich x={943} y={480} s="Voltage / V" size={17} anchor="middle" rot />
        <Rich x={503} y={339} s="Cycle number" size={17} anchor="middle" />
        <Rich x={1147} y={336} s="Specific capacity / mAh g^{-1}" size={17} anchor="middle" />
        <Rich x={503} y={665} s="Cycle number" size={17} anchor="middle" />
        <Rich x={1148} y={665} s="Specific capacity / mAh g^{-1}" size={17} anchor="middle" />

        <Rich x={315} y={74} s="C/3 charge, 1C discharge" anchor="middle" />
        <Rich x={316} y={95} s="1C=500 mA g^{-1}=1.35 mA cm^{-2}" anchor="middle" />
        <Rich x={575} y={87} s="581 mAh g^{-1}" />
        <Rich x={746} y={97} s="574 mAh g^{-1}" />
        <Rich x={432} y={187} s="542 mAh g^{-1}" />
        <Rich x={853} y={146} s="98.8%" anchor="end" fill={FM_DARK} />
        <Rich x={853} y={232} s="69.6%" anchor="end" fill={FE_DARK} />
        <Rich x={172} y={274} s="2.7 mg cm^{-2} SPAN, 500 μm Li, 75 μL electrolyte" />
        <CycLegend y1={217} y2={237} x={198} />

        <Rich x={511} y={422} s="C/3 charge, 1C discharge" anchor="middle" />
        <Rich x={511} y={443} s="1C=500 mA g^{-1}=1.35 mA cm^{-2}" anchor="middle" />
        <Rich x={853} y={467} s="71%" anchor="end" fill={FM_DARK} />
        <Rich x={853} y={577} s="17%" anchor="end" fill={FE_DARK} />
        <Rich x={172} y={604} s="2.7 mg cm^{-2} SPAN, 3 mAh cm^{-2} Li, 20 μL electrolyte" />
        <CycLegend y1={548} y2={567} x={192} />

        <Rich x={997} y={47} s="FEmF" fill={FM_DARK} />
        <Rich x={997} y={377} s="FEmF" fill={FM_DARK} />
        <VoltLegend items={legendB} x={1228} y0={121.7} step={18.9} />
        <VoltLegend items={legendD} x={1230} y0={451.7} step={18.9} />
      </svg>
    </div>
  );
}
